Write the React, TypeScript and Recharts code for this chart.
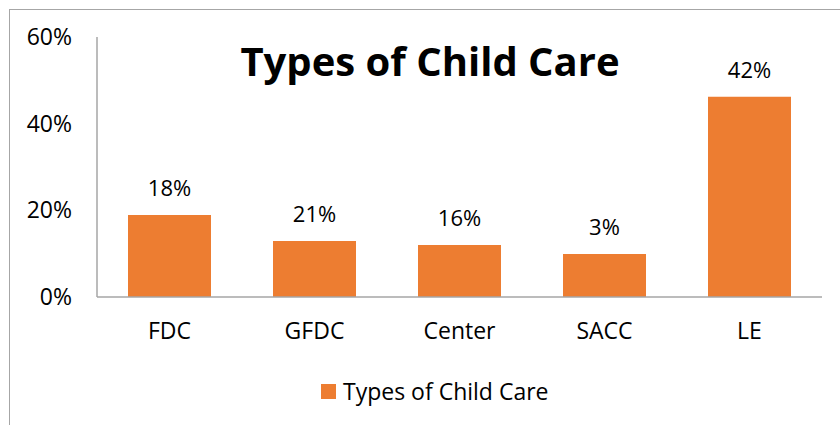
import { BarChart, Bar, XAxis, YAxis, Legend, LabelList } from 'recharts';

const categories = ['FDC', 'GFDC', 'Center', 'SACC', 'LE'];
// bar heights as drawn in the picture
const heights = [0.189, 0.129, 0.12, 0.099, 0.462];
// data labels as printed above the bars
const labels = ['18%', '21%', '16%', '3%', '42%'];
const yTicks = [0, 0.2, 0.4, 0.6];
const seriesName = 'Types of Child Care';

const data = categories.map((c, i) => ({ name: c, value: heights[i], label: labels[i] }));

const font = '"Open Sans", sans-serif';

function LegendContent() {
  return (
    <div
      style={{
        display: 'flex',
        alignItems: 'center',
        justifyContent: 'flex-start',
        paddingLeft: 321,
        height: 68,
        fontFamily: font,
        fontSize: 23,
        color: '#000',
      }}
    >
      <span style={{ display: 'inline-block', width: 15, height: 15, background: '#ED7D31', marginRight: 7 }} />
      <span>{seriesName}</span>
    </div>
  );
}

export default function App() {
  return (
    <div style={{ position: 'absolute', left: 0, top: 0, width: 840, height: 425, overflow: 'hidden', background: '#fff' }}>
      <div
        style={{
          position: 'absolute',
          left: 9,
          top: 9,
          width: 900,
          height: 500,
          border: '1.5px solid #A6A6A6',
          boxSizing: 'border-box',
        }}
      />
      <BarChart
        width={840}
        height={425}
        data={data}
        margin={{ top: 37, right: 18, bottom: 0, left: 0 }}
        style={{ position: 'absolute', left: 0, top: 0 }}
      >
        <XAxis
          dataKey="name"
          tickLine={false}
          tickSize={0}
          tickMargin={26}
          height={60}
          axisLine={{ stroke: '#A6A6A6', strokeWidth: 1.5 }}
          tick={{ fill: '#000', fontFamily: font, fontSize: 23 }}
        />
        <YAxis
          domain={[0, 0.6]}
          ticks={yTicks}
          width={97}
          tickLine={false}
          tickSize={0}
          tickMargin={25}
          axisLine={{ stroke: '#A6A6A6', strokeWidth: 1.5 }}
          tickFormatter={(v: number) => `${Math.round(v * 100)}%`}
          tick={{ fill: '#000', fontFamily: font, fontSize: 23 }}
        />
        <Legend
          verticalAlign="bottom"
          height={68}
          content={LegendContent}
          wrapperStyle={{ left: 0, width: 840 }}
        />
        <Bar dataKey="value" name={seriesName} fill="#ED7D31" barSize={83} isAnimationActive={false}>
          <LabelList dataKey="label" position="top" offset={19} fill="#000" fontFamily={font} fontSize={22} />
        </Bar>
      </BarChart>
      <div
        style={{
          position: 'absolute',
          left: 0,
          width: 860,
          top: 33,
          textAlign: 'center',
          fontFamily: font,
          fontWeight: 700,
          fontSize: 40,
          lineHeight: 'normal',
          color: '#000',
        }}
      >
        {seriesName}
      </div>
    </div>
  );
}
